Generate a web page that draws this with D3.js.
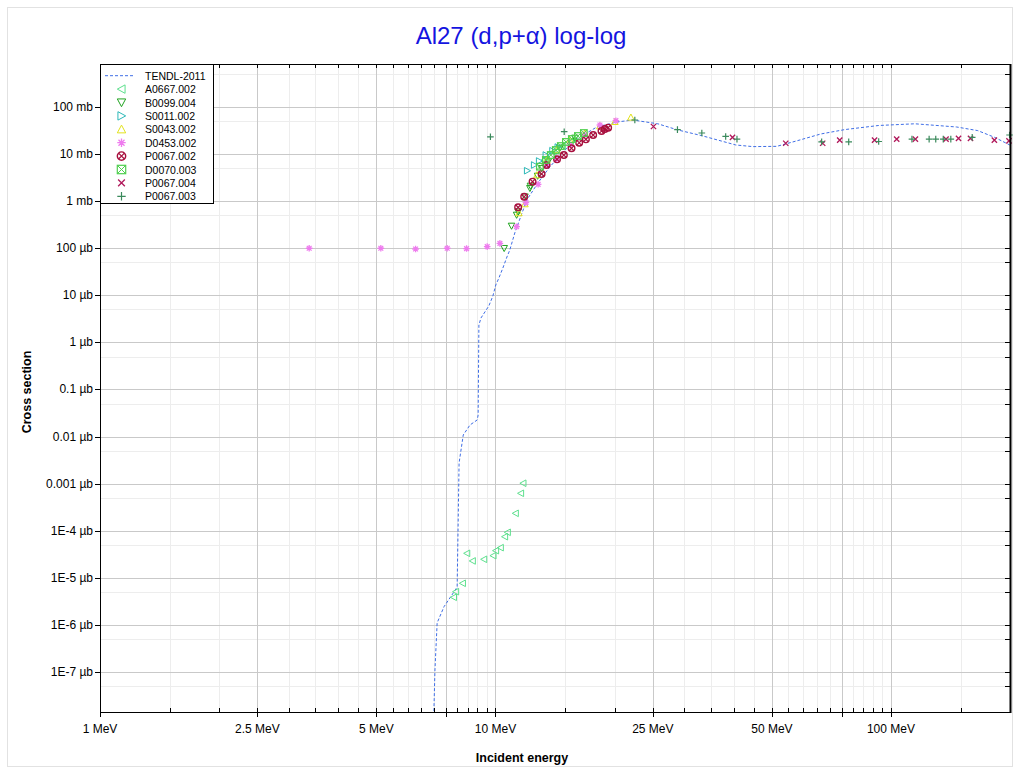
<!DOCTYPE html>
<html><head><meta charset="utf-8">
<script src="https://cdn.jsdelivr.net/npm/d3@7"></script>
<style>body{margin:0;background:#fff}svg{display:block;font-family:"Liberation Sans",Arial,sans-serif}</style>
</head><body><svg id="c" width="1020" height="774"></svg>
<script>
// ---------- DATA ----------
const xTickValues = [1, 2.5, 5, 10, 25, 50, 100];
const xTickLabels = ["1 MeV", "2.5 MeV", "5 MeV", "10 MeV", "25 MeV", "50 MeV", "100 MeV"];
const xMajorGrid = [1, 2.5, 5, 7.5, 10, 25, 50, 75, 100];
const xMinorGrid = [1.5, 2, 3, 3.5, 4, 4.5, 5.5, 6, 6.5, 7, 8, 8.5, 9, 9.5, 15, 20, 30, 35, 40, 45, 55, 60, 65, 70, 80, 85, 90, 95, 150];
const yTickValues = [100, 10, 1, 0.1, 0.01, 1e-3, 1e-4, 1e-5, 1e-6, 1e-7, 1e-8, 1e-9, 1e-10]; // in mb
const yTickLabels = ["100 mb", "10 mb", "1 mb", "100 µb", "10 µb", "1 µb", "0.1 µb", "0.01 µb", "0.001 µb", "1E-4 µb", "1E-5 µb", "1E-6 µb", "1E-7 µb"];
const yMinorGrid = [500, 50, 5, 0.5, 0.05, 5e-3, 5e-4, 5e-5, 5e-6, 5e-7, 5e-8, 5e-9, 5e-10, 5e-11];

const tendlE = [6.93, 6.99, 7.03, 7.12, 7.41, 7.82, 8.00, 8.09, 8.29, 8.62, 8.99, 9.04, 9.08, 9.19, 9.62, 9.85, 10.02, 10.20, 10.44, 10.69, 10.87, 11.19, 12.0, 12.80, 13.72, 14.98, 16.35, 18.05, 20.27, 22.25, 25.73, 28.92, 33.25, 40.52, 44.75, 51.44, 57.80, 66.45, 76.40, 93.13, 114.9, 146.6, 165.8, 183.0, 199.7];
const tendlS = [1e-12, 1.71e-11, 1.10e-10, 1.10e-9, 2.43e-9, 4.75e-9, 6.38e-9, 2.74e-6, 1.08e-5, 1.76e-5, 2.25e-5, 2.87e-5, 2.34e-3, 3.30e-3, 5.93e-3, 9.68e-3, 0.0166, 0.0233, 0.038, 0.0652, 0.0918, 0.211, 1.06, 2.43, 5.32, 12.2, 23.1, 37.6, 48.0, 52.9, 44.0, 32.5, 24.6, 15.6, 14.4, 14.6, 19.1, 26.7, 33.1, 40.5, 44.0, 37.6, 31.5, 22.6, 15.6];

const a0667E = [7.84, 7.94, 8.26, 8.47, 8.75, 9.35, 9.87, 10.02, 10.30, 10.56, 10.73, 11.24, 11.59, 11.75, 13.3, 14.0, 14.8, 15.5];
const a0667S = [3.85e-9, 5.07e-9, 7.64e-9, 3.31e-8, 2.28e-8, 2.47e-8, 2.95e-8, 3.77e-8, 4.36e-8, 7.46e-8, 9.25e-8, 2.34e-7, 6.23e-7, 1.02e-6, 7.5, 11, 15, 19];
const b0099E = [10.52, 10.98, 11.31, 11.41, 11.87, 12.22, 12.26, 12.78, 13.08, 13.59, 14.55, 15.88];
const b0099S = [0.0998, 0.297, 0.508, 0.597, 1.24, 1.88, 2.10, 3.42, 4.99, 6.89, 13.5, 22.0];
const s0011E = [12.03, 12.53, 12.90, 13.41, 13.94, 14.38];
const s0011S = [4.43, 5.86, 7.13, 9.55, 11.8, 14.1];
const s0043E = [11.46, 11.87, 12.73, 13.49, 14.30, 15.42, 16.83, 18.37, 20.04, 22.0];
const s0043S = [0.561, 0.871, 3.60, 7.49, 12.2, 19.9, 28.0, 39.5, 48.7, 60.4];
const d0453E = [3.38, 5.13, 6.28, 7.55, 8.45, 9.53, 10.26, 11.31, 11.94, 12.82, 13.51, 14.27, 15.42, 16.83, 18.37, 20.16];
const d0453S = [0.0998, 0.0998, 0.0964, 0.0998, 0.0985, 0.108, 0.127, 0.287, 0.927, 2.28, 5.86, 7.75, 15.6, 25.4, 41.5, 51.2];
const p0067_002E = [11.41, 11.82, 12.41, 13.08, 13.46, 14.31, 14.89, 15.57, 16.28, 16.93, 17.66, 18.54, 18.91, 19.27];
const p0067_002S = [0.741, 1.24, 2.59, 3.78, 5.86, 7.75, 9.55, 13.3, 17.4, 20.6, 25.4, 30.9, 34.1, 36.3];
const d0070E = [12.95, 13.41, 13.80, 14.21, 14.63, 15.07, 15.60, 16.16, 16.73];
const d0070S = [5.40, 7.49, 9.55, 12.2, 14.8, 18.1, 20.9, 24.2, 28.0];
const p0067_004E = [25.09, 39.75, 54.2, 67.2, 74.2, 90.9, 103.4, 115.3, 137.8, 148.2, 158.9, 182.6, 198.8];
const p0067_004S = [38.5, 22.6, 17.0, 17.0, 19.8, 19.8, 20.8, 20.8, 20.8, 21.5, 21.5, 19.8, 19.1];
const p0067_003E = [9.71, 14.92, 22.51, 28.85, 33.25, 38.2, 40.8, 66.8, 78.2, 93.1, 113.0, 124.9, 129.8, 135.6, 141.7, 160.5, 199.5];
const p0067_003S = [23.3, 29.9, 52.9, 33.1, 28.0, 23.7, 20.8, 18.2, 18.2, 18.5, 20.8, 20.8, 20.8, 20.8, 20.8, 22.6, 25.4];

const seriesNames = ["A0667.002", "B0099.004", "S0011.002", "S0043.002", "D0453.002", "P0067.002", "D0070.003", "P0067.004", "P0067.003"];
const seriesE = [a0667E, b0099E, s0011E, s0043E, d0453E, p0067_002E, d0070E, p0067_004E, p0067_003E];
const seriesS = [a0667S, b0099S, s0011S, s0043S, d0453S, p0067_002S, d0070S, p0067_004S, p0067_003S];
const seriesSymbols = ["tl", "td", "tr", "tu", "ast", "cx", "sx", "x", "plus"];
const seriesColors = ["#5ee08e", "#1fa31f", "#2cb8b8", "#e2e21e", "#ee7cee", "#a8103e", "#4fcf4f", "#b0175a", "#3b8a5c"];

// ---------- CHART ----------
const svg = d3.select("#c");
const L = 100, R = 1010, T = 64, B = 712;
const x = d3.scaleLog().domain([1, 200]).range([L, R]);
const y = d3.scaleLog().domain([1.41e-11, 819]).range([B, T]);

svg.append("rect").attr("x", 7.5).attr("y", 7.5).attr("width", 1005).attr("height", 759)
  .attr("fill", "none").attr("stroke", "#e2e2e2");

svg.append("defs").append("clipPath").attr("id", "pc").append("rect")
  .attr("x", L).attr("y", T).attr("width", R - L).attr("height", B - T);

const grid = svg.append("g");
grid.selectAll(".vmn").data(xMinorGrid).join("line")
  .attr("x1", d => Math.round(x(d)) + 0.5).attr("x2", d => Math.round(x(d)) + 0.5)
  .attr("y1", T).attr("y2", B).attr("stroke", "#ededed");
grid.selectAll(".hmn").data(yMinorGrid.filter(d => y(d) > T && y(d) < B)).join("line")
  .attr("y1", d => Math.round(y(d)) + 0.5).attr("y2", d => Math.round(y(d)) + 0.5)
  .attr("x1", L).attr("x2", R).attr("stroke", "#ededed");
grid.selectAll(".vmj").data(xMajorGrid).join("line")
  .attr("x1", d => Math.round(x(d)) + 0.5).attr("x2", d => Math.round(x(d)) + 0.5)
  .attr("y1", T).attr("y2", B).attr("stroke", "#c9c9c9");
grid.selectAll(".hmj").data(yTickValues).join("line")
  .attr("y1", d => Math.round(y(d)) + 0.5).attr("y2", d => Math.round(y(d)) + 0.5)
  .attr("x1", L).attr("x2", R).attr("stroke", "#c9c9c9");

// TENDL curve
const tendl = tendlE.map((e, i) => [e, tendlS[i]]);
svg.append("path").datum(tendl).attr("clip-path", "url(#pc)")
  .attr("d", d3.line().x(d => x(d[0])).y(d => y(d[1])))
  .attr("fill", "none").attr("stroke", "#3f6ee6").attr("stroke-width", 1).attr("stroke-dasharray", "3,2");

function symbol(g, type, color, s) {
  const st = {stroke: color, "stroke-width": 1, fill: "none"};
  const add = (tag, attrs) => { const e = g.append(tag); Object.entries(Object.assign({}, st, attrs)).forEach(([k, v]) => e.attr(k, v)); return e; };
  const tri = pts => add("path", {d: "M" + pts.map(p => p.join(",")).join("L") + "Z"});
  const k = 0.85;
  if (type === "tl") tri([[-s, 0], [s * k, -s], [s * k, s]]);
  else if (type === "tr") tri([[s, 0], [-s * k, -s], [-s * k, s]]);
  else if (type === "td") tri([[0, s], [-s, -s * k], [s, -s * k]]);
  else if (type === "tu") tri([[0, -s], [-s, s * k], [s, s * k]]);
  else if (type === "ast") {
    const a = s * 0.72;
    add("path", {d: `M${-s},0L${s},0M0,${-s}L0,${s}M${-a},${-a}L${a},${a}M${-a},${a}L${a},${-a}`, "stroke-width": 1.3});
  } else if (type === "cx") {
    const a = s * 0.7;
    add("circle", {r: s, "stroke-width": 1.4});
    add("path", {d: `M${-a},${-a}L${a},${a}M${-a},${a}L${a},${-a}`, "stroke-width": 1.2});
  } else if (type === "sx") {
    add("rect", {x: -s, y: -s, width: 2 * s, height: 2 * s, "stroke-width": 1.2});
    add("path", {d: `M${-s},${-s}L${s},${s}M${-s},${s}L${s},${-s}`});
  } else if (type === "x") {
    const a = s * 0.8;
    add("path", {d: `M${-a},${-a}L${a},${a}M${-a},${a}L${a},${-a}`, "stroke-width": 1.3});
  } else if (type === "plus") {
    add("path", {d: `M${-s},0L${s},0M0,${-s}L0,${s}`, "stroke-width": 1.2});
  }
}

const marks = svg.append("g");
seriesNames.forEach((nm, si) => {
  seriesE[si].forEach((e, i) => {
    const g = marks.append("g").attr("transform", `translate(${x(e)},${y(seriesS[si][i])})`);
    symbol(g, seriesSymbols[si], seriesColors[si], 3.3);
  });
});

// Frame
const fr = svg.append("g").attr("stroke", "#000");
fr.append("line").attr("x1", L + 0.5).attr("x2", L + 0.5).attr("y1", T).attr("y2", B + 1);
fr.append("line").attr("x1", L).attr("x2", R + 1).attr("y1", B + 0.5).attr("y2", B + 0.5);
fr.append("line").attr("x1", L).attr("x2", R + 1).attr("y1", T + 0.5).attr("y2", T + 0.5);
fr.append("line").attr("x1", R + 0.5).attr("x2", R + 0.5).attr("y1", T).attr("y2", B + 1).attr("stroke-width", 2);

// Bottom ticks
const tk = svg.append("g").attr("stroke", "#000");
xMajorGrid.forEach(v => { const px = Math.round(x(v)) + 0.5; tk.append("line").attr("x1", px).attr("x2", px).attr("y1", B - 4).attr("y2", B + 5); });
xMinorGrid.forEach(v => { const px = Math.round(x(v)) + 0.5; tk.append("line").attr("x1", px).attr("x2", px).attr("y1", B - 4).attr("y2", B); });
// top ticks
xMajorGrid.concat(xMinorGrid).forEach(v => { const px = Math.round(x(v)) + 0.5; tk.append("line").attr("x1", px).attr("x2", px).attr("y1", T).attr("y2", T + 4); });
// left ticks
yTickValues.forEach(v => { const py = Math.round(y(v)) + 0.5; tk.append("line").attr("x1", L - 5).attr("x2", L).attr("y1", py).attr("y2", py); });
// right ticks
yTickValues.concat(yMinorGrid).filter(v => y(v) > T && y(v) < B).forEach(v => { const py = Math.round(y(v)) + 0.5; tk.append("line").attr("x1", R - 5).attr("x2", R).attr("y1", py).attr("y2", py); });

// tick labels
const lab = svg.append("g").attr("font-size", 12).attr("fill", "#000");
xTickValues.forEach((v, i) => lab.append("text").attr("x", x(v)).attr("y", 733).attr("text-anchor", "middle").text(xTickLabels[i]));
yTickValues.forEach((v, i) => lab.append("text").attr("x", L - 7).attr("y", y(v) + 4).attr("text-anchor", "end").text(yTickLabels[i]));

// axis titles
svg.append("text").attr("x", 522).attr("y", 762).attr("text-anchor", "middle").attr("font-size", 12.5).attr("font-weight", "bold").text("Incident energy");
svg.append("text").attr("transform", "translate(31,392) rotate(-90)").attr("text-anchor", "middle").attr("font-size", 12.5).attr("font-weight", "bold").text("Cross section");

// title
svg.append("text").attr("x", 521).attr("y", 44).attr("text-anchor", "middle").attr("font-size", 24).attr("fill", "#1414e0").text("Al27 (d,p+α) log-log");

// Legend
const lg = svg.append("g");
lg.append("rect").attr("x", 100.5).attr("y", 64.5).attr("width", 113).attr("height", 139).attr("fill", "#fff").attr("stroke", "#000");
const ly0 = 75.7, ldy = 13.4;
lg.append("line").attr("x1", 105).attr("x2", 133).attr("y1", ly0).attr("y2", ly0).attr("stroke", "#3f6ee6").attr("stroke-dasharray", "3,2");
lg.append("text").attr("x", 145).attr("y", ly0 + 4).attr("font-size", 10.5).text("TENDL-2011");
seriesNames.forEach((nm, i) => {
  const yy = ly0 + ldy * (i + 1);
  symbol(lg.append("g").attr("transform", `translate(121.5,${yy})`), seriesSymbols[i], seriesColors[i], 4.2);
  lg.append("text").attr("x", 145).attr("y", yy + 4).attr("font-size", 10.5).text(nm);
});
</script></body></html>
